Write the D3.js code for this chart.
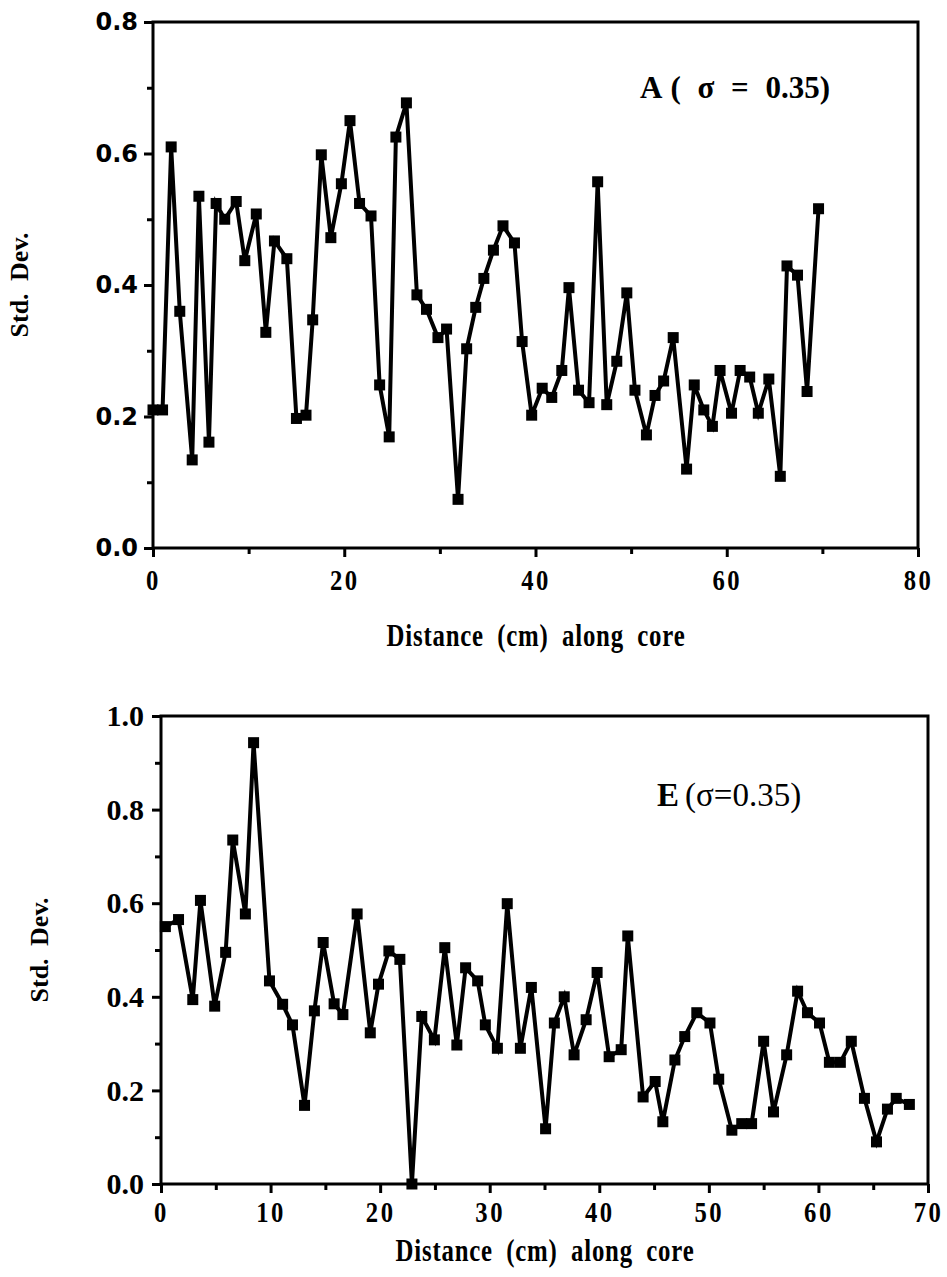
<!DOCTYPE html>
<html lang="en">
<head>
  <meta charset="UTF-8">
  <title>Std. Dev. along core</title>
  <script src="https://d3js.org/d3.v7.min.js"></script>
  <style>
    body {
      margin: 0;
      background: #fff;
    }
    svg {
      display: block;
    }
    .frame {
      fill: none;
      stroke: #000;
      stroke-width: 3;
    }
    .axis path {
      stroke: #000;
      stroke-width: 3;
    }
    .axis line {
      stroke: #000;
      stroke-width: 3;
    }
    .series {
      fill: none;
      stroke: #000;
      stroke-width: 4;
      stroke-linejoin: miter;
    }
    .mark {
      fill: #000;
    }
    .ylab-a text {
      font-family: "DejaVu Sans", sans-serif;
      font-weight: bold;
      font-size: 24px;
    }
    .tick-serif text {
      font-family: "Liberation Serif", serif;
      font-weight: bold;
      font-size: 29px;
    }
    .ylab-e text {
      font-family: "Liberation Serif", serif;
      font-weight: bold;
      font-size: 30px;
    }
    .title {
      font-family: "Liberation Serif", serif;
      font-weight: bold;
    }
  </style>
</head>
<body>
  <svg width="947" height="1277"></svg>

  <script>
    // ---- panel A ----
    const aDist = [0, 1, 1.9, 2.8, 4.1, 4.8, 5.85, 6.6, 7.5, 8.7, 9.6, 10.8, 11.8, 12.7, 14, 15, 16, 16.7,
      17.6, 18.6, 19.7, 20.6, 21.6, 22.8, 23.7, 24.7, 25.4, 26.5, 27.6, 28.6, 29.8, 30.7, 31.9, 32.8,
      33.75, 34.6, 35.6, 36.6, 37.8, 38.6, 39.6, 40.7, 41.7, 42.75, 43.5, 44.5, 45.6, 46.5, 47.45, 48.5,
      49.55, 50.4, 51.6, 52.5, 53.4, 54.4, 55.8, 56.6, 57.6, 58.5, 59.3, 60.5, 61.4, 62.4, 63.3, 64.4,
      65.6, 66.3, 67.4, 68.4, 69.6];
    const aStd = [0.21, 0.21, 0.61, 0.36, 0.134, 0.535, 0.161, 0.524, 0.50, 0.527, 0.437, 0.508, 0.328,
      0.467, 0.44, 0.197, 0.202, 0.347, 0.598, 0.472, 0.554, 0.65, 0.524, 0.505, 0.248, 0.169, 0.625,
      0.677, 0.385, 0.363, 0.32, 0.333, 0.074, 0.303, 0.366, 0.41, 0.453, 0.49, 0.464, 0.314, 0.202,
      0.243, 0.229, 0.27, 0.396, 0.24, 0.221, 0.557, 0.218, 0.284, 0.388, 0.24, 0.172, 0.232, 0.254,
      0.32, 0.12, 0.248, 0.21, 0.185, 0.27, 0.205, 0.27, 0.26, 0.205, 0.257, 0.109, 0.429, 0.415,
      0.238, 0.516];
    const aXTicks = [0, 20, 40, 60, 80];
    const aXMinor = [10, 30, 50, 70];
    const aYTicks = [0, 0.2, 0.4, 0.6, 0.8];
    const aYMinor = [0.1, 0.3, 0.5, 0.7];

    // ---- panel E ----
    const eDist = [0.4, 1.6, 2.9, 3.6, 4.9, 5.9, 6.55, 7.7, 8.45, 9.9, 11.1, 12.0, 13.1, 14.0, 14.8,
      15.8, 16.6, 17.9, 19.1, 19.85, 20.8, 21.8, 22.9, 23.8, 24.95, 25.9, 27.0, 27.8, 28.9, 29.6,
      30.7, 31.6, 32.8, 33.8, 35.1, 35.9, 36.8, 37.7, 38.8, 39.8, 40.9, 42.0, 42.6, 44.0, 45.1, 45.8,
      46.9, 47.8, 48.9, 50.1, 50.9, 52.1, 53.0, 53.9, 55.0, 55.9, 57.1, 58.1, 59.0, 60.1, 61.0, 62.0,
      63.0, 64.2, 65.3, 66.3, 67.1, 68.3];
    const eStd = [0.55, 0.565, 0.394, 0.606, 0.38, 0.495, 0.735, 0.577, 0.943, 0.434, 0.384, 0.34,
      0.168, 0.37, 0.516, 0.385, 0.362, 0.577, 0.323, 0.427, 0.498, 0.48, 0.0, 0.358, 0.308, 0.505,
      0.297, 0.462, 0.434, 0.34, 0.29, 0.599, 0.29, 0.42, 0.118, 0.344, 0.40, 0.276, 0.351, 0.452,
      0.272, 0.287, 0.53, 0.186, 0.219, 0.133, 0.265, 0.315, 0.366, 0.344, 0.224, 0.115, 0.129, 0.129,
      0.305, 0.154, 0.276, 0.412, 0.366, 0.344, 0.26, 0.26, 0.305, 0.183, 0.09, 0.16, 0.183, 0.17];
    const eXTicks = [0, 10, 20, 30, 40, 50, 60, 70];
    const eXMinor = [5, 15, 25, 35, 45, 55, 65];
    const eYTicks = [0, 0.2, 0.4, 0.6, 0.8, 1.0];
    const eYMinor = [0.1, 0.3, 0.5, 0.7, 0.9];

    const svg = d3.select('svg');
    const fmt = d3.format('.1f');

    function panel(opt) {
      const x = d3.scaleLinear().domain(opt.xDomain).range([opt.left, opt.right]);
      const y = d3.scaleLinear().domain(opt.yDomain).range([opt.bottom, opt.top]);
      const g = svg.append('g');

      // frame
      g.append('rect')
        .attr('class', 'frame')
        .attr('x', opt.left).attr('y', opt.top)
        .attr('width', opt.right - opt.left)
        .attr('height', opt.bottom - opt.top);

      // minor ticks
      g.append('g').attr('class', 'axis')
        .attr('transform', `translate(${opt.left},0)`)
        .call(d3.axisLeft(y).tickValues(opt.yMinor).tickSize(6).tickFormat(''))
        .call(s => s.select('.domain').remove());
      g.append('g').attr('class', 'axis')
        .attr('transform', `translate(0,${opt.bottom})`)
        .call(d3.axisBottom(x).tickValues(opt.xMinor).tickSize(6).tickFormat(''))
        .call(s => s.select('.domain').remove());

      // major ticks + labels
      g.append('g').attr('class', 'axis ' + opt.yClass)
        .attr('transform', `translate(${opt.left},0)`)
        .call(d3.axisLeft(y).tickValues(opt.yTicks).tickSize(9).tickPadding(opt.yPad).tickFormat(fmt))
        .call(s => s.select('.domain').remove());
      g.append('g').attr('class', 'axis tick-serif')
        .attr('transform', `translate(0,${opt.bottom})`)
        .call(d3.axisBottom(x).tickValues(opt.xTicks).tickSize(9).tickPadding(opt.xPad).tickFormat(d3.format('d')))
        .call(s => s.select('.domain').remove())
        .selectAll('text')
        .attr('letter-spacing', 3)
        .attr('transform', 'scale(0.85,1)');

      // series
      const line = d3.line().x((d, i) => x(opt.dist[i])).y(d => y(d));
      g.append('path').datum(opt.vals)
        .attr('class', 'series')
        .attr('d', line);

      const ms = 11;
      g.selectAll('.mark').data(opt.vals).enter()
        .append('rect')
        .attr('class', 'mark')
        .attr('x', (d, i) => x(opt.dist[i]) - ms / 2)
        .attr('y', d => y(d) - ms / 2)
        .attr('width', ms)
        .attr('height', ms);

      // axis titles
      g.append('text')
        .attr('class', 'title')
        .attr('transform', `translate(${opt.yTitleX},${(opt.top + opt.bottom) / 2}) rotate(-90)`)
        .attr('text-anchor', 'middle')
        .attr('dominant-baseline', 'middle')
        .attr('font-size', 26)
        .attr('word-spacing', 6)
        .text('Std. Dev.');

      g.append('text')
        .attr('class', 'title')
        .attr('transform', `translate(${opt.xTitleX},${opt.xTitleY}) scale(0.8,1)`)
        .attr('text-anchor', 'middle')
        .attr('font-size', 31)
        .attr('letter-spacing', 1)
        .attr('word-spacing', 8)
        .text('Distance (cm) along core');

      return { x, y, g };
    }

    const pa = panel({
      left: 153, right: 918, top: 22, bottom: 548,
      xDomain: [0, 80], yDomain: [0, 0.8],
      xTicks: aXTicks, xMinor: aXMinor, yTicks: aYTicks, yMinor: aYMinor,
      yClass: 'ylab-a', xPad: 12, yPad: 6,
      dist: aDist, vals: aStd,
      yTitleX: 22, xTitleX: 536, xTitleY: 646
    });
    const lblA = pa.g.append('text')
      .attr('class', 'title')
      .attr('x', 640).attr('y', 98)
      .attr('font-size', 31);
    lblA.append('tspan').text('A');
    lblA.append('tspan').attr('dx', 8).attr('word-spacing', 9).text('( σ = 0.35)');

    const pe = panel({
      left: 161, right: 928, top: 716, bottom: 1184,
      xDomain: [0, 70], yDomain: [0, 1.0],
      xTicks: eXTicks, xMinor: eXMinor, yTicks: eYTicks, yMinor: eYMinor,
      yClass: 'ylab-e', xPad: 8, yPad: 8,
      dist: eDist, vals: eStd,
      yTitleX: 42, xTitleX: 545, xTitleY: 1261
    });
    const lblE = pe.g.append('text')
      .attr('x', 657).attr('y', 806)
      .attr('font-family', '"Liberation Serif", serif')
      .attr('font-size', 33);
    lblE.append('tspan').attr('font-weight', 'bold').text('E');
    lblE.append('tspan').attr('dx', 6).text('(σ=0.35)');
  </script>
</body>
</html>
